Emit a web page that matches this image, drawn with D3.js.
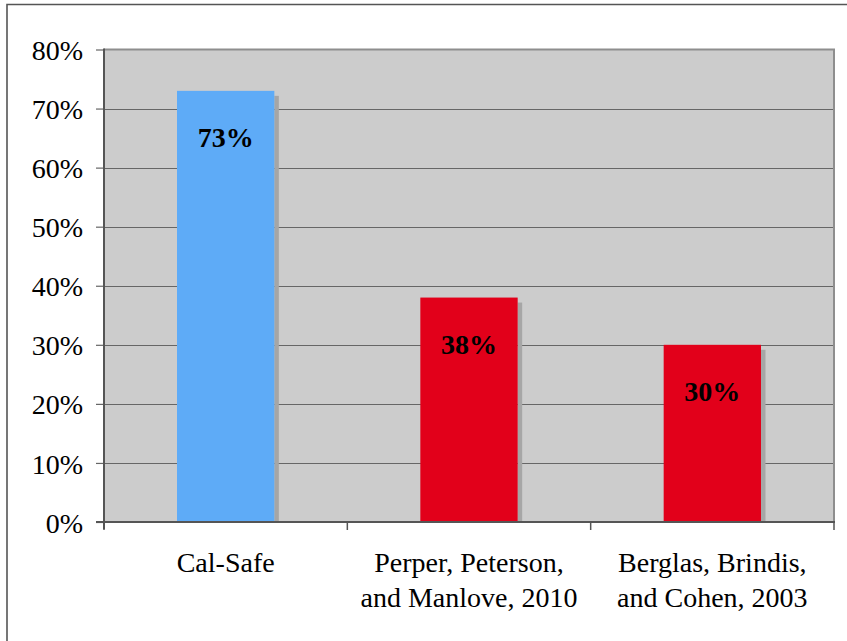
<!DOCTYPE html>
<html><head><meta charset="utf-8">
<script src="https://cdn.jsdelivr.net/npm/d3@7"></script>
<style>html,body{margin:0;padding:0;background:#fff;}svg{display:block;}</style>
</head><body>
<svg id="c" width="847" height="641"></svg>
<script>
const categories = [["Cal-Safe"], ["Perper, Peterson,", "and Manlove, 2010"], ["Berglas, Brindis,", "and Cohen, 2003"]];
const values = [0.73, 0.38, 0.30];
const valueLabels = ["73%", "38%", "30%"];
const barColors = ["#5eabf7", "#e2001a", "#e2001a"];
const yTicks = [0, 0.1, 0.2, 0.3, 0.4, 0.5, 0.6, 0.7, 0.8];

(function(){
const svg = d3.select("#c");
const W = 847, H = 641;
const pLeft = 104, pRight = 834, pTop = 49.5, pBottom = 522;
const serif = "'Liberation Serif','Times New Roman',serif";

// outer frame
svg.append("path").attr("d", `M7,${H+2} L7,4.5 L${W+2},4.5`).attr("fill","none").attr("stroke","#555").attr("stroke-width",1.6);

const y = d3.scaleLinear().domain([0, 0.8]).range([pBottom, pTop]);
const x = d3.scaleBand().domain(d3.range(categories.length)).range([pLeft, pRight]).paddingInner(0.6).paddingOuter(0.3);

// plot background
svg.append("rect").attr("x", pLeft).attr("y", pTop).attr("width", pRight-pLeft).attr("height", pBottom-pTop).attr("fill","#cccccc");

// gridlines
svg.append("g").selectAll("line").data(yTicks.slice(1,-1)).join("line")
  .attr("x1", pLeft).attr("x2", pRight).attr("y1", d=>Math.round(y(d))+0.5).attr("y2", d=>Math.round(y(d))+0.5)
  .attr("stroke","#666").attr("stroke-width",1.2);

// plot border top/right
svg.append("path").attr("d", `M${pLeft},${pTop} L${pRight},${pTop} L${pRight},${pBottom}`).attr("fill","none").attr("stroke","#8e8e8e").attr("stroke-width",2);

// bar shadows
const bw = x.bandwidth();
svg.append("g").selectAll("rect").data(values).join("rect")
  .attr("x", (d,i)=>x(i)+bw).attr("width", 4.5)
  .attr("y", d=>y(d)+5).attr("height", d=>pBottom-y(d)-5)
  .attr("fill","#a6a6a6");
// bars
svg.append("g").selectAll("rect").data(values).join("rect")
  .attr("x", (d,i)=>x(i)).attr("width", bw)
  .attr("y", d=>y(d)).attr("height", d=>pBottom-y(d))
  .attr("fill", (d,i)=>barColors[i]);

// value labels
svg.append("g").selectAll("text").data(values).join("text")
  .attr("x", (d,i)=>x(i)+bw/2).attr("y", d=>y(d)+56)
  .attr("text-anchor","middle").attr("font-family", serif).attr("font-weight","bold").attr("font-size", 28)
  .attr("fill","#000").text((d,i)=>valueLabels[i]);

// y axis
const yAxis = d3.axisLeft(y).tickValues(yTicks).tickFormat(d3.format(".0%")).tickSize(8).tickPadding(13);
const gy = svg.append("g").attr("transform", `translate(${pLeft},0)`).call(yAxis);
gy.select(".domain").remove();
gy.selectAll(".tick line").attr("stroke","#666").attr("stroke-width",1.2);
gy.selectAll(".tick text").attr("font-family", serif).attr("font-size", 28).attr("fill","#000").attr("dy","0.36em");
svg.append("line").attr("x1", pLeft).attr("x2", pLeft).attr("y1", pTop-1).attr("y2", pBottom+7).attr("stroke","#555").attr("stroke-width",2);

// x axis
svg.append("line").attr("x1", pLeft-8).attr("x2", pRight+1).attr("y1", pBottom).attr("y2", pBottom).attr("stroke","#555").attr("stroke-width",2);
const step = x.step();
const bounds = d3.range(categories.length+1).map(i=>pLeft + i*step);
svg.append("g").selectAll("line").data(bounds).join("line")
  .attr("x1", d=>d).attr("x2", d=>d).attr("y1", pBottom).attr("y2", pBottom+8)
  .attr("stroke","#555").attr("stroke-width",1.5);

// category labels
const cl = svg.append("g").selectAll("text").data(categories).join("text")
  .attr("text-anchor","middle").attr("font-family", serif).attr("font-size", 28).attr("fill","#000")
  .attr("x", (d,i)=>x(i)+bw/2).attr("y", 572);
cl.selectAll("tspan").data(d=>d).join("tspan")
  .attr("x", function(){ return d3.select(this.parentNode).attr("x"); })
  .attr("dy", (d,i)=> i===0 ? 0 : 34.5).text(d=>d);
})();
</script>
</body></html>
